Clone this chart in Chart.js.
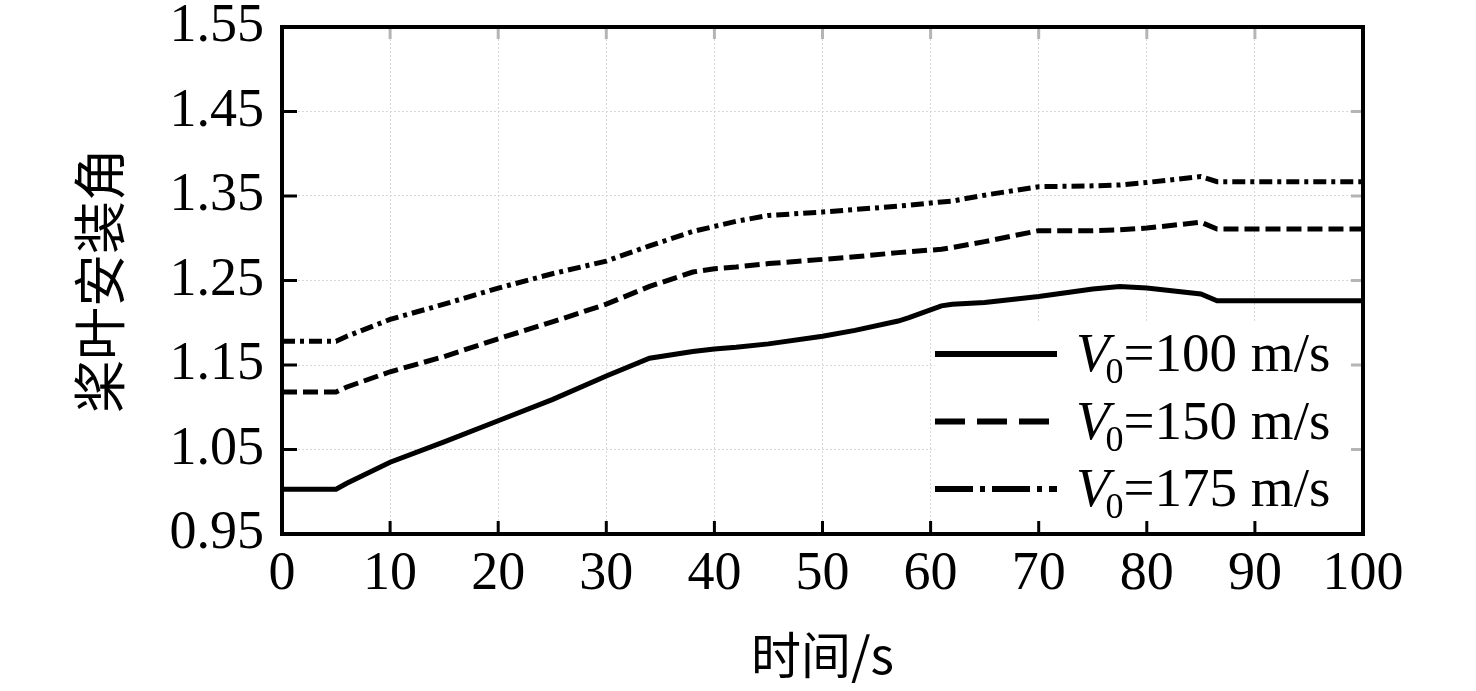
<!DOCTYPE html>
<html>
<head>
<meta charset="utf-8">
<script src="https://cdn.jsdelivr.net/npm/chart.js@4.4.1/dist/chart.umd.min.js"></script>
<style>
  body { margin: 0; background: #fff; }
  #wrap { width: 1476px; height: 691px; }
</style>
</head>
<body>
<div id="wrap"><canvas id="pitchChart" width="1476" height="691"></canvas></div>
<script>
// time (s) and blade pitch angle
const timeS = [0, 5, 6, 10, 15, 20, 25, 30, 34, 38, 40, 42, 45, 50, 53, 57, 58, 61, 62, 65, 70, 75, 77.5, 80, 85, 86.5, 90, 95, 100];
const angleV100 = [1.003, 1.003, 1.010, 1.035, 1.059, 1.084, 1.109, 1.137, 1.158, 1.166, 1.169, 1.171, 1.175, 1.184, 1.191, 1.202, 1.206, 1.220, 1.222, 1.224, 1.231, 1.240, 1.243, 1.241, 1.234, 1.226, 1.226, 1.226, 1.226];
const angleV150 = [1.118, 1.118, 1.124, 1.142, 1.160, 1.181, 1.201, 1.222, 1.243, 1.260, 1.264, 1.266, 1.270, 1.275, 1.278, 1.283, 1.284, 1.287, 1.289, 1.296, 1.309, 1.309, 1.310, 1.312, 1.319, 1.311, 1.311, 1.311, 1.311];
const angleV175 = [1.178, 1.178, 1.184, 1.204, 1.222, 1.241, 1.258, 1.273, 1.291, 1.308, 1.314, 1.320, 1.327, 1.331, 1.334, 1.338, 1.339, 1.343, 1.344, 1.351, 1.361, 1.362, 1.363, 1.366, 1.373, 1.367, 1.367, 1.367, 1.367];
const speedLabels = ["100", "150", "175"];
const yTickValues = [0.95, 1.05, 1.15, 1.25, 1.35, 1.45, 1.55];

const lineDashes = [[], [15, 6], [13, 5, 4, 5]];
const legendDashes = [[], [30, 12], [38, 7, 5, 7]];

const toPoints = (ys) => timeS.map((t, i) => ({ x: t, y: ys[i] }));

// white legend box drawn over the grid, inside the plot
const legendBox = {
  id: "legendBox",
  afterDatasetsDraw(chart) {
    const { ctx, chartArea: a } = chart;
    ctx.save();
    ctx.fillStyle = "#fff";
    ctx.fillRect(a.right - 428, a.bottom - 211, 418, 206);
    chart.data.datasets.forEach((ds, i) => {
      const y = a.bottom - 180 + i * 67.5;
      ctx.beginPath();
      ctx.setLineDash(legendDashes[i]);
      ctx.lineWidth = 6;
      ctx.strokeStyle = "#000";
      ctx.moveTo(a.right - 428, y);
      ctx.lineTo(a.right - 306, y);
      ctx.stroke();
      ctx.setLineDash([]);

      let x = a.right - 287;
      ctx.fillStyle = "#000";
      ctx.textBaseline = "middle";
      ctx.textAlign = "left";
      ctx.font = 'italic 55px "Liberation Serif"';
      ctx.fillText("V", x, y + 3);
      x += ctx.measureText("V").width - 4;
      ctx.font = '36px "Liberation Serif"';
      ctx.fillText("0", x, y + 20);
      x += ctx.measureText("0").width;
      ctx.font = '55px "Liberation Serif"';
      ctx.fillText("=" + speedLabels[i] + " m/s", x, y + 3);
    });
    ctx.restore();
  },
};

// box frame with inward ticks
const frameTicks = {
  id: "frameTicks",
  afterDraw(chart) {
    const { ctx, chartArea: a, scales } = chart;
    ctx.save();
    ctx.lineWidth = 3;
    scales.x.ticks.forEach((t) => {
      if (t.value <= 0 || t.value >= 100) return;
      const px = scales.x.getPixelForValue(t.value);
      ctx.strokeStyle = "#000";
      ctx.beginPath();
      ctx.moveTo(px, a.bottom);
      ctx.lineTo(px, a.bottom - 13);
      ctx.stroke();
      ctx.strokeStyle = "#b5b5b5";
      ctx.beginPath();
      ctx.moveTo(px, a.top);
      ctx.lineTo(px, a.top + 12);
      ctx.stroke();
    });
    scales.y.ticks.forEach((t) => {
      if (t.value <= 0.951 || t.value >= 1.549) return;
      const py = scales.y.getPixelForValue(t.value);
      ctx.strokeStyle = "#000";
      ctx.beginPath();
      ctx.moveTo(a.left, py);
      ctx.lineTo(a.left + 15, py);
      ctx.stroke();
      ctx.strokeStyle = "#b5b5b5";
      ctx.beginPath();
      ctx.moveTo(a.right, py);
      ctx.lineTo(a.right - 12, py);
      ctx.stroke();
    });
    ctx.lineWidth = 4;
    ctx.strokeStyle = "#000";
    ctx.strokeRect(a.left, a.top, a.right - a.left, a.bottom - a.top);
    ctx.restore();
  },
};

const makeSet = (label, ys, i) => ({
  label: label,
  data: toPoints(ys),
  borderColor: "#000",
  borderWidth: 5,
  borderDash: lineDashes[i],
  borderCapStyle: "butt",
  pointRadius: 0,
  tension: 0,
  fill: false,
});

new Chart(document.getElementById("pitchChart").getContext("2d"), {
  type: "line",
  data: {
    datasets: [
      makeSet("V0=100 m/s", angleV100, 0),
      makeSet("V0=150 m/s", angleV150, 1),
      makeSet("V0=175 m/s", angleV175, 2),
    ],
  },
  options: {
    responsive: false,
    devicePixelRatio: 1,
    animation: false,
    layout: { padding: { left: 0, top: 27, right: 113, bottom: 0 } },
    plugins: {
      legend: { display: false },
      tooltip: { enabled: false },
    },
    scales: {
      x: {
        type: "linear",
        min: 0,
        max: 100,
        ticks: {
          stepSize: 10,
          color: "#000",
          padding: 14,
          font: { family: "Liberation Serif", size: 54, lineHeight: 1 },
          maxRotation: 0,
        },
        grid: { color: "#d8d8d8", lineWidth: 1, drawTicks: false },
        border: { display: false, dash: [2, 2] },
        title: {
          display: true,
          text: "时间/s",
          color: "#000",
          font: { family: "Noto Sans CJK SC", size: 50 },
          padding: { top: 0, bottom: 6 },
        },
        afterFit: (scale) => {
          scale.height = 157;
          scale.paddingLeft = 0;
          scale.paddingRight = 0;
        },
      },
      y: {
        min: 0.95,
        max: 1.55,
        afterBuildTicks: (scale) => {
          scale.ticks = yTickValues.map((v) => ({ value: v }));
        },
        ticks: {
          color: "#000",
          padding: 18,
          font: { family: "Liberation Serif", size: 54, lineHeight: 1 },
          callback: (value) => Number(value).toFixed(2),
        },
        grid: { color: "#d8d8d8", lineWidth: 1, drawTicks: false },
        border: { display: false, dash: [2, 2] },
        title: {
          display: true,
          text: "桨叶安装角",
          color: "#000",
          font: { family: "Noto Sans CJK SC", size: 53 },
          padding: { top: 68, bottom: 0 },
        },
        afterFit: (scale) => {
          scale.width = 282;
          scale.paddingTop = 0;
          scale.paddingBottom = 0;
        },
      },
    },
  },
  plugins: [legendBox, frameTicks],
});
</script>
</body>
</html>
